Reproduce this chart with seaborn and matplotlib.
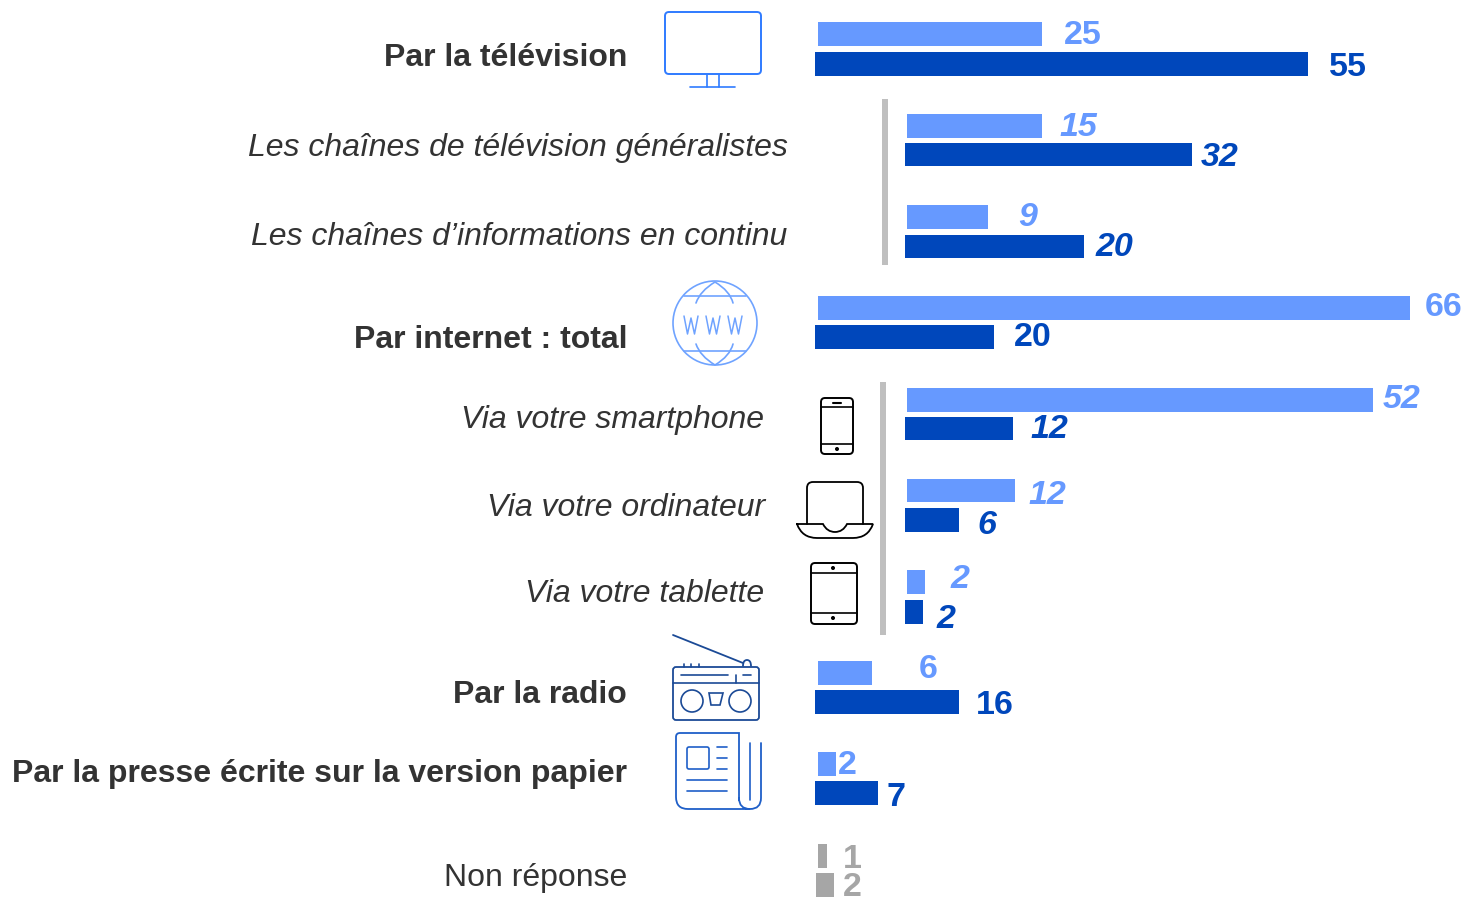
import numpy as np
import pandas as pd
import matplotlib
matplotlib.use("Agg")
import matplotlib.pyplot as plt
from matplotlib.patches import FancyBboxPatch, Circle, Polygon, PathPatch
from matplotlib.path import Path
import seaborn as sns

# ---- data ----
categories = ["Par la télévision", "Les chaînes de télévision généralistes",
              "Les chaînes d’informations en continu", "Par internet : total",
              "Via votre smartphone", "Via votre ordinateur", "Via votre tablette",
              "Par la radio", "Par la presse écrite sur la version papier", "Non réponse"]
series_light = [25, 15, 9, 66, 52, 12, 2, 6, 2, 1]
series_dark = [55, 32, 20, 20, 12, 6, 2, 16, 7, 2]
row_kind = ["main", "sub", "sub", "main", "sub", "sub", "sub", "main", "main", "none"]

# ---- layout (pixels) ----
W, H = 1467, 900
PX_PER_UNIT = 8.97
light_top = [22, 114, 205, 296, 388, 479, 570, 661, 752, 844]
dark_top = [52, 143, 235, 325, 417, 508, 600, 690, 781, 873]
bar_h = 23.5
start_light = {"main": 818, "sub": 907, "none": 818}
start_dark = {"main": 815, "sub": 905, "none": 816}
label_right = [627, 788, 787, 627, 764, 765, 764, 627, 627, 627]
label_y = [58, 148, 237, 340, 420, 508, 594, 695, 774, 878]
light_lab = [(1064, 36), (1059, 127), (1018, 218), (1425, 307), (1383, 400), (1028, 496),
             (951, 580), (919, 669), (838, 765), (843, 859)]
dark_lab = [(1329, 67), (1201, 158), (1096, 247), (1014, 338), (1030, 429), (977, 526),
            (937, 619), (976, 706), (887, 797), (843, 887)]

LIGHT, DARK, GREY = "#6699FF", "#0047BB", "#A6A6A6"
TXT = "#333333"
TV_C, WWW_C, NAVY, NEWS_C = "#2F7BFF", "#6FA3FF", "#1B4A96", "#1F5FC8"

sns.set_theme(style="white")
plt.rcParams["font.family"] = ["Liberation Sans", "DejaVu Sans"]
fig = plt.figure(figsize=(W / 100, H / 100), dpi=100, facecolor="white")

ov = fig.add_axes([0, 0, 1, 1], zorder=5)
ov.set_xlim(0, W); ov.set_ylim(H, 0); ov.axis("off"); ov.patch.set_alpha(0)


def draw_bar(value, x0, top, color):
    ax = fig.add_axes([x0 / W, 1 - (top + bar_h) / H, 660 / W, bar_h / H], zorder=2)
    df = pd.DataFrame({"v": [value], "c": ["x"]})
    sns.barplot(data=df, x="v", y="c", orient="h", color=color, width=1,
                saturation=1, ax=ax, errorbar=None, linewidth=0)
    ax.set_xlim(0, 660 / PX_PER_UNIT)
    ax.set_ylim(0.5, -0.5)
    ax.axis("off")
    ax.patch.set_alpha(0)


for i, cat in enumerate(categories):
    kind = row_kind[i]
    lc = GREY if kind == "none" else LIGHT
    dc = GREY if kind == "none" else DARK
    draw_bar(series_light[i], start_light[kind], light_top[i], lc)
    draw_bar(series_dark[i], start_dark[kind], dark_top[i], dc)
    style = "italic" if kind == "sub" else "normal"
    weight = "bold" if kind == "main" else "normal"
    ov.text(label_right[i], label_y[i], cat, ha="right", va="center", fontsize=23,
            style=style, weight=weight, color=TXT)
    ov.text(*light_lab[i], str(series_light[i]), ha="left", va="center", fontsize=24.5,
            style=style, weight="bold", color=lc)
    ov.text(*dark_lab[i], str(series_dark[i]), ha="left", va="center", fontsize=24.5,
            style=style, weight="bold", color=dc)

ov.plot([885, 885], [99, 265], color="#BFBFBF", lw=4.3, solid_capstyle="butt")
ov.plot([883, 883], [382, 635], color="#BFBFBF", lw=4.3, solid_capstyle="butt")


def line(xs, ys, c, lw=1.2):
    ov.plot(xs, ys, color=c, lw=lw, solid_capstyle="round", solid_joinstyle="round")


def rbox(x0, y0, x1, y1, r, c, lw=1.2):
    ov.add_patch(FancyBboxPatch((x0 + r, y0 + r), x1 - x0 - 2 * r, y1 - y0 - 2 * r,
                                boxstyle=f"round,pad={r},rounding_size={r}",
                                ec=c, fc="none", lw=lw))


def curve(start, *segs, c="black", lw=1.3):
    """Open path: segments are (ctrl, end) quadratic, or (end,) straight."""
    verts, codes = [start], [Path.MOVETO]
    for s in segs:
        if len(s) == 2:
            verts += list(s); codes += [Path.CURVE3, Path.CURVE3]
        else:
            verts += list(s); codes += [Path.LINETO]
    ov.add_patch(PathPatch(Path(verts, codes), ec=c, fc="none", lw=lw, capstyle="round"))


# TV
rbox(665, 12, 761, 74, 4, TV_C, 1.4)
line([707, 707], [75, 87], TV_C); line([719, 719], [75, 87], TV_C)
line([690, 735], [87, 87], TV_C)

# WWW globe
cx, cy = 715, 323
ov.add_patch(Circle((cx, cy), 42, ec=WWW_C, fc="none", lw=1.2))
line([684, 746], [296, 296], WWW_C); line([684, 746], [351, 351], WWW_C)
curve((696, 303), ((700, 291), (715, 282)), ((730, 291), (733, 303)), c=WWW_C, lw=1.2)
curve((696, 344), ((700, 356), (715, 365)), ((730, 356), (733, 344)), c=WWW_C, lw=1.2)
for x in (691, 713, 735):
    line([x - 7, x - 3.5, x, x + 3.5, x + 7], [316, 334, 318, 334, 316], WWW_C, 1.1)

# smartphone
rbox(821, 398, 853, 454, 4, "black", 1.4)
line([821, 853], [407, 407], "black"); line([821, 853], [444, 444], "black")
line([833, 841], [402.5, 402.5], "black", 1.5)
ov.add_patch(Circle((837, 449), 1.3, color="black"))

# laptop
curve((807, 524), ((807, 524), (807, 488)), ((807, 482), (813, 482)), ((835, 482), (857, 482)),
      ((863, 482), (863, 488)), ((863, 524), (863, 524)))
curve((797, 524), ((810, 524), (823, 524)), ((827, 532), (835, 532)), ((843, 532), (847, 524)),
      ((860, 524), (873, 524)), ((868, 538), (853, 538)), ((835, 538), (817, 538)),
      ((802, 538), (797, 524)))

# tablet
rbox(811, 563, 857, 624, 4, "black", 1.4)
line([811, 857], [573, 573], "black"); line([811, 857], [613, 613], "black")
ov.add_patch(Circle((833, 568), 1.3, color="black"))
ov.add_patch(Circle((833, 618), 1.3, color="black"))

# radio
line([673, 743], [635, 663], NAVY, 1.3)
curve((743, 666), ((743, 660), (747, 660)), ((751, 660), (751, 666)), c=NAVY)
rbox(673, 667, 759, 720, 3, NAVY, 1.3)
line([673, 759], [683, 683], NAVY)
line([681, 728], [675, 675], NAVY); line([743, 751], [675, 675], NAVY)
line([736, 736], [675, 683], NAVY)
for x in (684, 691, 699):
    line([x, x], [664, 667], NAVY)
ov.add_patch(Circle((692, 701), 11, ec=NAVY, fc="none", lw=1.2))
ov.add_patch(Circle((740, 701), 11, ec=NAVY, fc="none", lw=1.2))
ov.add_patch(Polygon([[709, 693], [723, 693], [720, 705], [711, 705]], closed=True, ec=NAVY, fc="none", lw=1.2))

# newspaper
curve((739, 800), ((739, 766), (739, 733)), ((708, 733), (680, 733)), ((676, 733), (676, 737)),
      ((676, 767), (676, 797)), ((676, 809), (688, 809)), ((719, 809), (750, 809)),
      ((739, 809), (739, 798)), c=NEWS_C)
curve((750, 809), ((761, 809), (761, 798)), ((761, 770), (761, 743)), c=NEWS_C)
line([749.5, 749.5], [743, 800], NEWS_C)
rbox(687, 747, 709, 769, 2, NEWS_C)
for y in (747, 758, 769):
    line([717, 727], [y, y], NEWS_C)
for y in (780, 791):
    line([687, 727], [y, y], NEWS_C)

fig.savefig("out.png", dpi=100, facecolor="white")
